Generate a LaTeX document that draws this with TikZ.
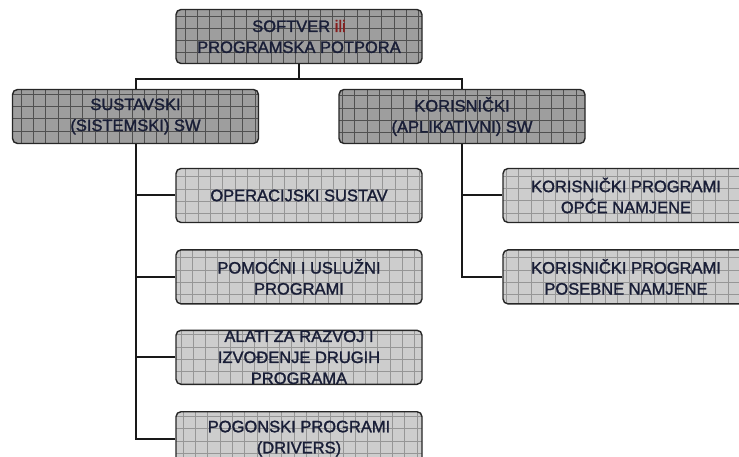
\documentclass[tikz,border=0pt]{standalone}
\usepackage{fontspec}
\setmainfont{Liberation Sans}
\newfontfamily\boxfont[FakeBold=1.5]{Liberation Sans}
\usepackage{tikz}
\usetikzlibrary{positioning}
\definecolor{ink}{RGB}{25,30,55}
\definecolor{ilired}{RGB}{135,30,30}
\definecolor{darkfill}{RGB}{158,158,158}
\definecolor{lightfill}{RGB}{205,205,205}
\definecolor{darkgrid}{RGB}{80,80,80}
\definecolor{lightgrid}{RGB}{150,150,150}
\tikzset{
  box/.style={draw=black!85,line width=1.4pt,rounded corners=5pt,align=center,
              text=ink,font=\boxfont\fontsize{16.5}{21}\selectfont,inner sep=0pt,
              minimum width=246pt,minimum height=54pt},
  dbox/.style={box,fill=darkfill,path picture={
      \draw[darkgrid,line width=0.8pt] (path picture bounding box.south west)
        grid[step=12.3pt] (path picture bounding box.north east);}},
  lbox/.style={box,fill=lightfill,path picture={
      \draw[lightgrid,line width=0.7pt] (path picture bounding box.south west)
        grid[step=12.3pt] (path picture bounding box.north east);}},
  link/.style={line width=2pt,black!90},
}
\begin{document}
\begin{tikzpicture}[x=1pt,y=-1pt]
\useasboundingbox (0,0) rectangle (739,457);
% top level
\node[dbox] (sw) at (299,36.5) {SOFTVER \textcolor{ilired}{ili}\\PROGRAMSKA POTPORA};
\node[dbox] (sys) at (135.5,116.5) {SUSTAVSKI\\(SISTEMSKI) SW};
\node[dbox] (app) at (462,116.5) {KORISNIČKI\\(APLIKATIVNI) SW};
% system software
\node[lbox] (os) at (299,195.5) {OPERACIJSKI SUSTAV};
\node[lbox,below=26pt of os] (util) {POMOĆNI I USLUŽNI\\PROGRAMI};
\node[lbox,below=25pt of util] (tools) {ALATI ZA RAZVOJ I\\IZVOĐENJE DRUGIH\\PROGRAMA};
\node[lbox,below=26pt of tools] (drv) {POGONSKI PROGRAMI\\(DRIVERS)};
% application software
\node[lbox] (gen) at (626,195.5) {KORISNIČKI PROGRAMI\\OPĆE NAMJENE};
\node[lbox,below=26pt of gen] (spec) {KORISNIČKI PROGRAMI\\POSEBNE NAMJENE};
% connectors
\draw[link] (sw.south) -- ++(0,15) coordinate (bus);
\draw[link] (sys.north) |- (bus) -| (app.north);
\foreach \n in {os,util,tools,drv}
  \draw[link] (sys.south) |- (\n.west);
\foreach \n in {gen,spec}
  \draw[link] (app.south) |- (\n.west);
\end{tikzpicture}
\end{document}
